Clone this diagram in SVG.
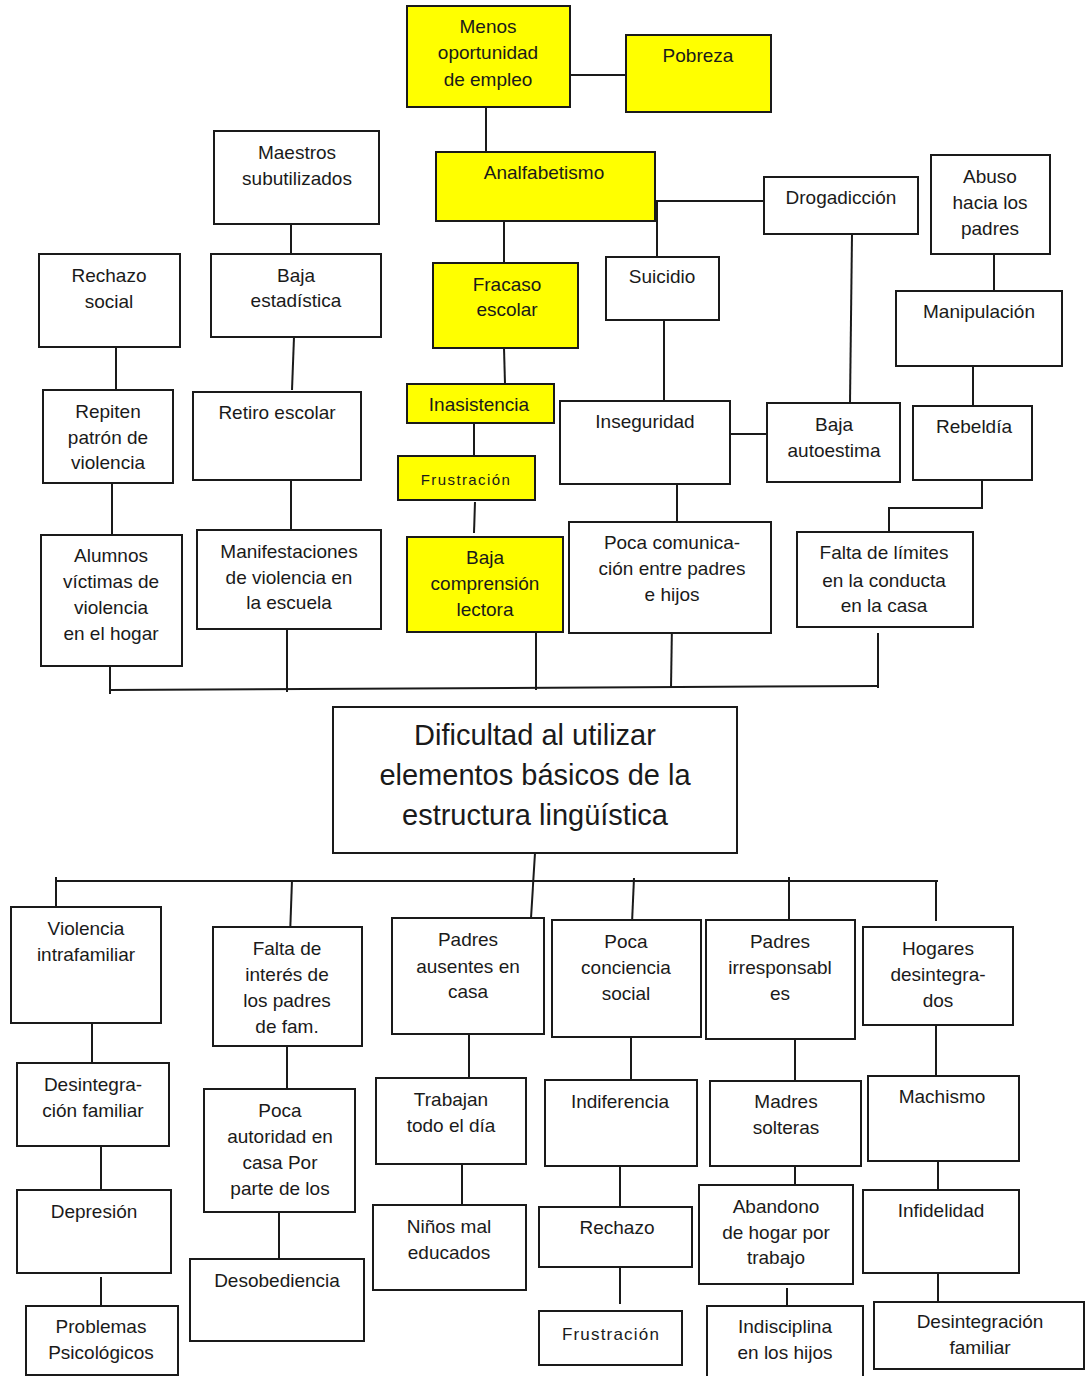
<svg xmlns="http://www.w3.org/2000/svg" width="1086" height="1376" viewBox="0 0 1086 1376">
<style>
rect{fill:#fff;stroke:#1a1a1a;stroke-width:2}
rect.y{fill:#ffff00}
text{font-family:"Liberation Sans",Arial,sans-serif;font-size:19px;fill:#1a1a1a;text-anchor:middle}
text.big{font-size:29px}
text.sm{font-size:15px;letter-spacing:1.4px}
text.fr{font-size:17px;letter-spacing:1.2px}
#connectors path{fill:none;stroke:#1a1a1a;stroke-width:2}
</style>
<rect x="0" y="0" width="1086" height="1376" style="fill:#fff;stroke:none"/>
<g id="connectors">
<path d="M570,75 H626"/>
<path d="M486,107 V152"/>
<path d="M504,221 V263"/>
<path d="M655,201 H764 M657,201 V257"/>
<path d="M291,224 V254"/>
<path d="M116,347 V390"/>
<path d="M112,483 V535"/>
<path d="M294,337 L292,390"/>
<path d="M291,480 V531"/>
<path d="M504,348 L505,384"/>
<path d="M474,423 V456"/>
<path d="M475,502 L474,533"/>
<path d="M852,234 L850,403"/>
<path d="M664,320 V401"/>
<path d="M730,434 H767"/>
<path d="M994,254 V291"/>
<path d="M973,366 V406"/>
<path d="M982,480 V508 H889 V532"/>
<path d="M677,484 V533"/>
<path d="M672,623 L671,688"/>
<path d="M878,633 V688"/>
<path d="M109,690 L879,686"/>
<path d="M110,666 V694"/>
<path d="M287,629 V692"/>
<path d="M536,632 V690"/>
<path d="M535,853 L531,918"/>
<path d="M55,881 H938"/>
<path d="M56,877 V917"/>
<path d="M292,880 L290,936"/>
<path d="M634,878 L632,923"/>
<path d="M789,877 V920"/>
<path d="M936,881 V921"/>
<path d="M92,1018 V1063"/>
<path d="M101,1146 V1190"/>
<path d="M101,1277 V1306"/>
<path d="M287,1046 V1089"/>
<path d="M279,1212 V1259"/>
<path d="M469,1034 V1078"/>
<path d="M462,1164 V1205"/>
<path d="M631,1037 V1080"/>
<path d="M620,1163 V1207"/>
<path d="M620,1267 V1304"/>
<path d="M795,1039 V1081"/>
<path d="M795,1166 V1185"/>
<path d="M787,1288 V1306"/>
<path d="M936,1025 V1076"/>
<path d="M938,1158 V1190"/>
<path d="M938,1273 V1302"/>
</g>

<g id="menos"><rect class="y" x="407" y="6" width="163" height="101"/><text x="488" y="33">Menos</text><text x="488" y="59">oportunidad</text><text x="488" y="86">de empleo</text></g>
<g id="pobreza"><rect class="y" x="626" y="35" width="145" height="77"/><text x="698" y="62">Pobreza</text></g>
<g id="analfabetismo"><rect class="y" x="436" y="152" width="219" height="69"/><text x="544" y="179">Analfabetismo</text></g>
<g id="maestros"><rect x="214" y="131" width="165" height="93"/><text x="297" y="159">Maestros</text><text x="297" y="185">subutilizados</text></g>
<g id="rechazo-social"><rect x="39" y="254" width="141" height="93"/><text x="109" y="282">Rechazo</text><text x="109" y="308">social</text></g>
<g id="baja-estadistica"><rect x="211" y="254" width="170" height="83"/><text x="296" y="282">Baja</text><text x="296" y="307">estadística</text></g>
<g id="fracaso"><rect class="y" x="433" y="263" width="145" height="85"/><text x="507" y="291">Fracaso</text><text x="507" y="316">escolar</text></g>
<g id="drogadiccion"><rect x="764" y="177" width="154" height="57"/><text x="841" y="204">Drogadicción</text></g>
<g id="suicidio"><rect x="606" y="257" width="113" height="63"/><text x="662" y="283">Suicidio</text></g>
<g id="abuso"><rect x="931" y="155" width="119" height="99"/><text x="990" y="183">Abuso</text><text x="990" y="209">hacia los</text><text x="990" y="235">padres</text></g>
<g id="manipulacion"><rect x="896" y="291" width="166" height="75"/><text x="979" y="318">Manipulación</text></g>
<g id="repiten"><rect x="43" y="390" width="130" height="93"/><text x="108" y="418">Repiten</text><text x="108" y="444">patrón de</text><text x="108" y="469">violencia</text></g>
<g id="retiro"><rect x="193" y="392" width="168" height="88"/><text x="277" y="419">Retiro escolar</text></g>
<g id="inasistencia"><rect class="y" x="407" y="384" width="147" height="39"/><text x="479" y="411">Inasistencia</text></g>
<g id="frustracion-a"><rect class="y" x="398" y="456" width="137" height="44"/><text class="sm" x="466" y="485">Frustración</text></g>
<g id="baja-comprension"><rect class="y" x="407" y="537" width="156" height="95"/><text x="485" y="564">Baja</text><text x="485" y="590">comprensión</text><text x="485" y="616">lectora</text></g>
<g id="alumnos"><rect x="41" y="535" width="141" height="131"/><text x="111" y="562">Alumnos</text><text x="111" y="588">víctimas de</text><text x="111" y="614">violencia</text><text x="111" y="640">en el hogar</text></g>
<g id="manifestaciones"><rect x="197" y="530" width="184" height="99"/><text x="289" y="558">Manifestaciones</text><text x="289" y="584">de violencia en</text><text x="289" y="609">la escuela</text></g>
<g id="inseguridad"><rect x="560" y="401" width="170" height="83"/><text x="645" y="428">Inseguridad</text></g>
<g id="baja-autoestima"><rect x="767" y="403" width="133" height="79"/><text x="834" y="431">Baja</text><text x="834" y="457">autoestima</text></g>
<g id="rebeldia"><rect x="913" y="406" width="119" height="74"/><text x="974" y="433">Rebeldía</text></g>
<g id="poca-comunicacion"><rect x="569" y="522" width="202" height="111"/><text x="672" y="549">Poca comunica-</text><text x="672" y="575">ción entre padres</text><text x="672" y="601">e hijos</text></g>
<g id="falta-limites"><rect x="797" y="532" width="176" height="95"/><text x="884" y="559">Falta de límites</text><text x="884" y="587">en la conducta</text><text x="884" y="612">en la casa</text></g>

<g id="central"><rect x="333" y="707" width="404" height="146"/><text class="big" x="535" y="745">Dificultad al utilizar</text><text class="big" x="535" y="785">elementos básicos de la</text><text class="big" x="535" y="825">estructura lingüística</text></g>

<g id="violencia"><rect x="11" y="907" width="150" height="116"/><text x="86" y="935">Violencia</text><text x="86" y="961">intrafamiliar</text></g>
<g id="falta-interes"><rect x="213" y="927" width="149" height="119"/><text x="287" y="955">Falta de</text><text x="287" y="981">interés de</text><text x="287" y="1007">los padres</text><text x="287" y="1033">de fam.</text></g>
<g id="padres-ausentes"><rect x="392" y="918" width="152" height="116"/><text x="468" y="946">Padres</text><text x="468" y="973">ausentes en</text><text x="468" y="998">casa</text></g>
<g id="poca-conciencia"><rect x="552" y="920" width="149" height="117"/><text x="626" y="948">Poca</text><text x="626" y="974">conciencia</text><text x="626" y="1000">social</text></g>
<g id="padres-irresponsables"><rect x="706" y="920" width="149" height="119"/><text x="780" y="948">Padres</text><text x="780" y="974">irresponsabl</text><text x="780" y="1000">es</text></g>
<g id="hogares"><rect x="863" y="927" width="150" height="98"/><text x="938" y="955">Hogares</text><text x="938" y="981">desintegra-</text><text x="938" y="1007">dos</text></g>

<g id="desintegracion-a"><rect x="17" y="1063" width="152" height="83"/><text x="93" y="1091">Desintegra-</text><text x="93" y="1117">ción familiar</text></g>
<g id="depresion"><rect x="17" y="1190" width="154" height="83"/><text x="94" y="1218">Depresión</text></g>
<g id="problemas"><rect x="26" y="1306" width="152" height="69"/><text x="101" y="1333">Problemas</text><text x="101" y="1359">Psicológicos</text></g>
<g id="poca-autoridad"><rect x="204" y="1089" width="151" height="123"/><text x="280" y="1117">Poca</text><text x="280" y="1143">autoridad en</text><text x="280" y="1169">casa Por</text><text x="280" y="1195">parte de los</text></g>
<g id="desobediencia"><rect x="190" y="1259" width="174" height="82"/><text x="277" y="1287">Desobediencia</text></g>
<g id="trabajan"><rect x="376" y="1078" width="150" height="86"/><text x="451" y="1106">Trabajan</text><text x="451" y="1132">todo el día</text></g>
<g id="ninos"><rect x="373" y="1205" width="153" height="85"/><text x="449" y="1233">Niños mal</text><text x="449" y="1259">educados</text></g>
<g id="indiferencia"><rect x="545" y="1080" width="152" height="86"/><text x="620" y="1108">Indiferencia</text></g>
<g id="rechazo"><rect x="539" y="1207" width="153" height="60"/><text x="617" y="1234">Rechazo</text></g>
<g id="frustracion-b"><rect x="539" y="1311" width="143" height="54"/><text class="fr" x="611" y="1340">Frustración</text></g>
<g id="madres"><rect x="710" y="1081" width="151" height="85"/><text x="786" y="1108">Madres</text><text x="786" y="1134">solteras</text></g>
<g id="abandono"><rect x="699" y="1185" width="154" height="99"/><text x="776" y="1213">Abandono</text><text x="776" y="1239">de hogar por</text><text x="776" y="1264">trabajo</text></g>
<g id="indisciplina"><rect x="707" y="1306" width="156" height="74"/><text x="785" y="1333">Indisciplina</text><text x="785" y="1359">en los hijos</text></g>
<g id="machismo"><rect x="868" y="1076" width="151" height="85"/><text x="942" y="1103">Machismo</text></g>
<g id="infidelidad"><rect x="863" y="1190" width="156" height="83"/><text x="941" y="1217">Infidelidad</text></g>
<g id="desintegracion-b"><rect x="874" y="1302" width="210" height="67"/><text x="980" y="1328">Desintegración</text><text x="980" y="1354">familiar</text></g>
</svg>
